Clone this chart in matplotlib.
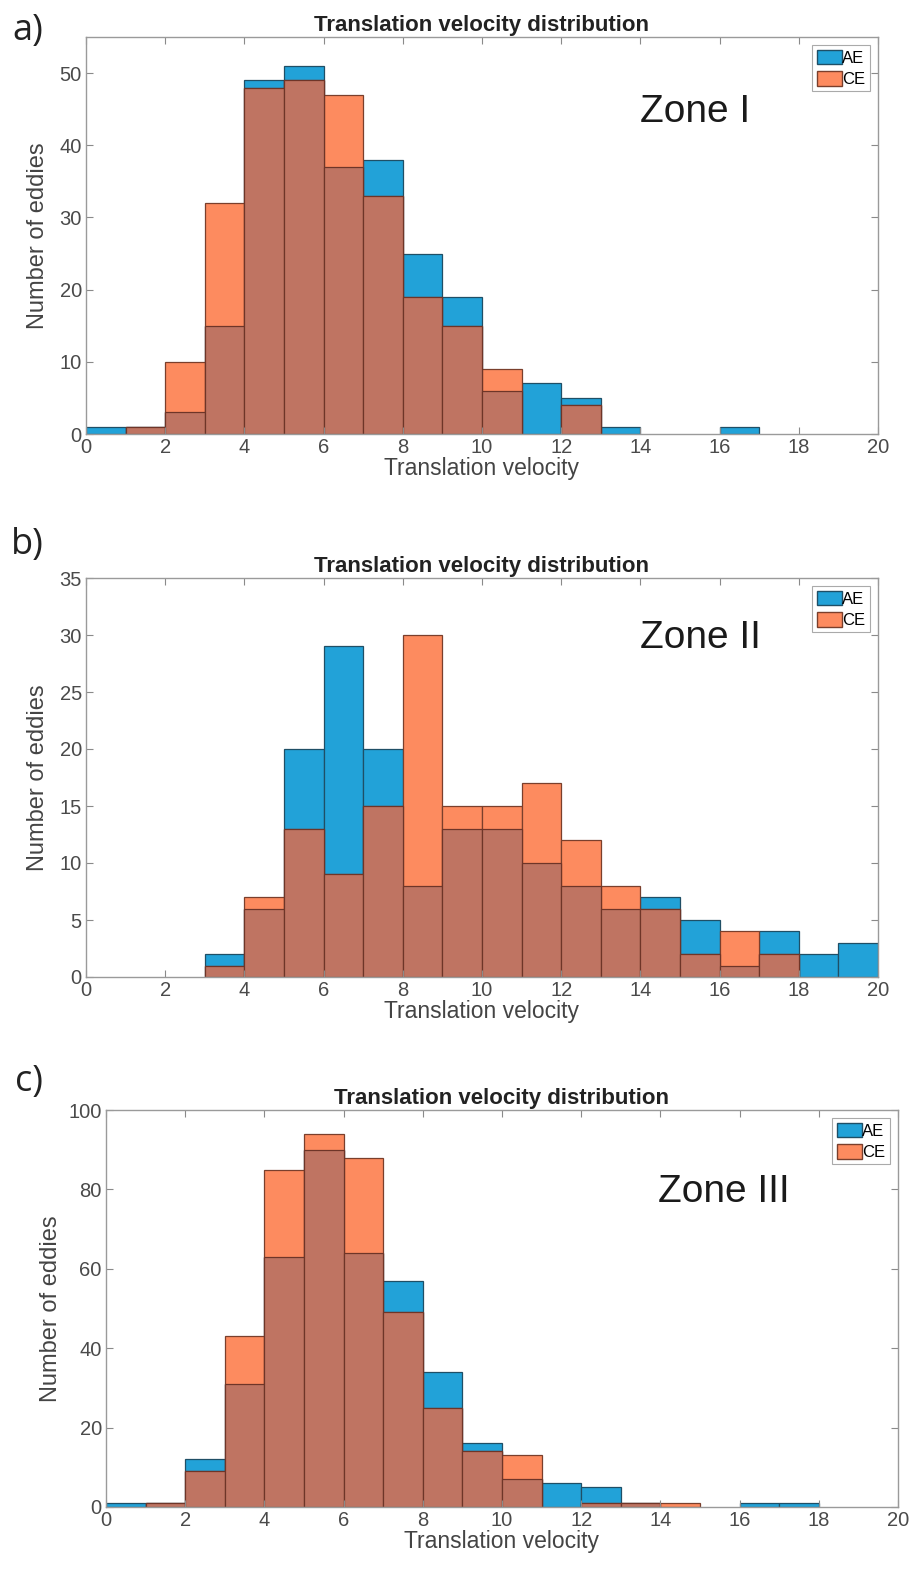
import numpy as np
import matplotlib.pyplot as plt
from matplotlib.patches import Patch

# Bin edges shared by all three histograms (1 unit wide, 0..20)
edges = np.arange(0, 21, 1)

# Zone I counts per bin
ae_zone1 = [1, 1, 3, 15, 49, 51, 37, 38, 25, 19, 6, 7, 5, 1, 0, 0, 1, 0, 0, 0]
ce_zone1 = [0, 1, 10, 32, 48, 49, 47, 33, 19, 15, 9, 0, 4, 0, 0, 0, 0, 0, 0, 0]

# Zone II counts per bin
ae_zone2 = [0, 0, 0, 2, 6, 20, 29, 20, 8, 13, 13, 10, 8, 6, 7, 5, 1, 4, 2, 3]
ce_zone2 = [0, 0, 0, 1, 7, 13, 9, 15, 30, 15, 15, 17, 12, 8, 6, 2, 4, 2, 0, 0]

# Zone III counts per bin
ae_zone3 = [1, 1, 12, 31, 63, 90, 64, 57, 34, 16, 7, 6, 5, 1, 0, 0, 1, 1, 0, 0]
ce_zone3 = [0, 1, 9, 43, 85, 94, 88, 49, 25, 14, 13, 0, 1, 1, 1, 0, 0, 0, 0, 0]

panel_tags = ['a)', 'b)', 'c)']
zone_names = ['Zone I', 'Zone II', 'Zone III']
y_limits = [55, 35, 100]
y_ticks = [np.arange(0, 51, 10), np.arange(0, 36, 5), np.arange(0, 101, 20)]

AE_COL = '#22a2d8'
CE_COL = '#fd8b5f'
MIX_COL = '#bf7462'

plt.rcParams['font.family'] = ['Liberation Sans', 'DejaVu Sans']

W, H = 914, 1574
fig = plt.figure(figsize=(W / 100, H / 100), dpi=100)

# axes boxes in pixels: left, top, right, bottom
boxes = [(86, 37, 878, 434), (86, 578, 878, 977), (106, 1110, 898, 1507)]
tag_pos = [(28, 31), (27, 545), (29, 1082)]
zone_pos = [(640, 112), (640, 638), (658, 1192)]
ylabel_x = [49, 49, 62]


def draw_bars(ax, heights, color, edge):
    heights = np.asarray(heights)
    keep = heights > 0
    ax.bar(edges[:-1][keep], heights[keep], width=1, align='edge',
           color=color, edgecolor=edge, linewidth=0.9)


series = [(ae_zone1, ce_zone1), (ae_zone2, ce_zone2), (ae_zone3, ce_zone3)]

for i, (ae, ce) in enumerate(series):
    l, t, r, b = boxes[i]
    ax = fig.add_axes([l / W, 1 - b / H, (r - l) / W, (b - t) / H])

    draw_bars(ax, ae, AE_COL, '#1f4f66')
    draw_bars(ax, ce, CE_COL, '#7a3f2c')
    draw_bars(ax, np.minimum(ae, ce), MIX_COL, '#6e3528')

    ax.set_xlim(0, 20)
    ax.set_ylim(0, y_limits[i])
    ax.set_xticks(np.arange(0, 21, 2))
    ax.set_yticks(y_ticks[i])
    ax.tick_params(direction='in', top=True, right=True, length=5,
                   width=0.8, color='#8a8a8a', labelsize=14.5,
                   labelcolor='#4a4a4a', pad=3)
    for s in ax.spines.values():
        s.set_color('#9a9a9a')
        s.set_linewidth(1.0)

    ax.set_title('Translation velocity distribution', fontsize=16,
                 fontweight='bold', color='#222222', pad=4)
    ax.set_xlabel('Translation velocity', fontsize=16.5, color='#444444',
                  labelpad=0)
    ax.set_ylabel('Number of eddies', fontsize=17, color='#444444')
    ax.yaxis.set_label_coords((ylabel_x[i] - l) / (r - l), 0.5)

    leg = ax.legend(handles=[Patch(facecolor=AE_COL, edgecolor='#1f4f66', label='AE'),
                             Patch(facecolor=CE_COL, edgecolor='#7a3f2c', label='CE')],
                    loc='upper right', fontsize=12, handlelength=1.5,
                    handleheight=1.0, handletextpad=0.05, borderpad=0.25,
                    labelspacing=0.3, borderaxespad=0.5, fancybox=False,
                    framealpha=1)
    leg.get_frame().set_edgecolor('#aaaaaa')
    leg.get_frame().set_linewidth(0.8)

    zx, zy = zone_pos[i]
    fig.text(zx / W, 1 - zy / H, zone_names[i], fontsize=28,
             color='#1a1a1a', va='center', ha='left')
    tx, ty = tag_pos[i]
    fig.text(tx / W, 1 - ty / H, panel_tags[i], fontsize=26,
             family=['Open Sans', 'DejaVu Sans'], color='#222222',
             va='center', ha='center')

fig.savefig('out.png', dpi=100)
